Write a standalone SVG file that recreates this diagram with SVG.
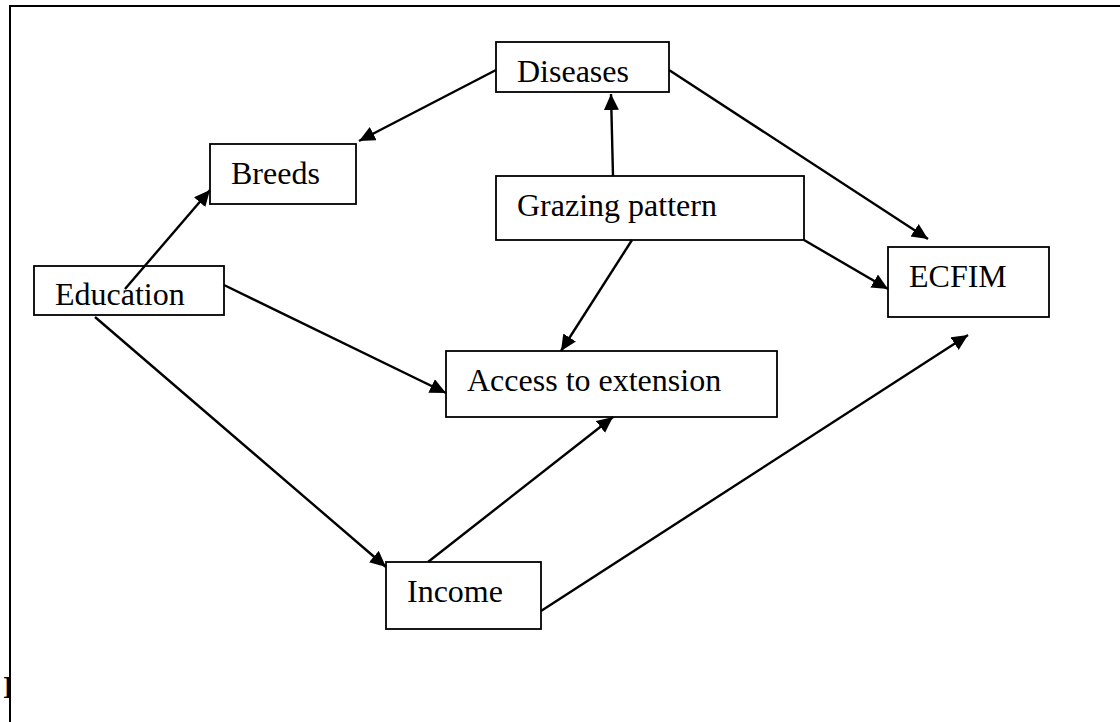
<svg xmlns="http://www.w3.org/2000/svg" width="1120" height="722" viewBox="0 0 1120 722">
<style>
.box{fill:#fff;stroke:#000;stroke-width:1.8}
.lbl{font-family:"Liberation Serif","Times New Roman",serif;font-size:32px;fill:#000}
.edge{stroke:#000;stroke-width:2.4;fill:none}
</style>
<defs>
<marker id="ah" markerUnits="userSpaceOnUse" markerWidth="18" markerHeight="16" refX="16" refY="7.5" orient="auto">
<path d="M0,0 L16,7.5 L0,15 Z" fill="#000"/>
</marker>
<clipPath id="leftclip"><rect x="0" y="0" width="10" height="722"/></clipPath>
</defs>
<rect width="1120" height="722" fill="#fff"/>
<text x="3" y="698" clip-path="url(#leftclip)" font-family="Liberation Serif, serif" font-weight="bold" font-size="31" fill="#000">I</text>
<g id="frame">
<path d="M10,722 L10,6 L1120,6" fill="none" stroke="#000" stroke-width="2"/>
</g>
<g id="n-diseases"><rect class="box" x="496" y="42" width="173" height="50"/><text class="lbl" x="517" y="82">Diseases</text></g>
<g id="n-breeds"><rect class="box" x="210" y="144" width="146" height="60"/><text class="lbl" x="231" y="184">Breeds</text></g>
<g id="n-grazing"><rect class="box" x="496" y="176" width="308" height="64"/><text class="lbl" x="517" y="216">Grazing pattern</text></g>
<g id="n-ecfim"><rect class="box" x="888" y="247" width="161" height="70"/><text class="lbl" x="909" y="287">ECFIM</text></g>
<g id="n-education"><rect class="box" x="34" y="266" width="190" height="49"/><text class="lbl" x="55" y="305">Education</text></g>
<g id="n-access"><rect class="box" x="446" y="351" width="331" height="66"/><text class="lbl" x="467" y="391">Access to extension</text></g>
<g id="n-income"><rect class="box" x="386" y="562" width="155" height="67"/><text class="lbl" x="407" y="602">Income</text></g>
<g id="connectors">
<line class="edge" x1="496" y1="70" x2="359" y2="141" marker-end="url(#ah)"/>
<line class="edge" x1="613" y1="176" x2="611" y2="94" marker-end="url(#ah)"/>
<line class="edge" x1="669" y1="70" x2="928" y2="239" marker-end="url(#ah)"/>
<line class="edge" x1="804" y1="240" x2="888" y2="289" marker-end="url(#ah)"/>
<line class="edge" x1="632" y1="240" x2="561" y2="351" marker-end="url(#ah)"/>
<line class="edge" x1="125" y1="289" x2="210" y2="190" marker-end="url(#ah)"/>
<line class="edge" x1="224" y1="285" x2="446" y2="393" marker-end="url(#ah)"/>
<line class="edge" x1="95" y1="317" x2="386" y2="567" marker-end="url(#ah)"/>
<line class="edge" x1="428" y1="562" x2="613" y2="417" marker-end="url(#ah)"/>
<line class="edge" x1="541" y1="611" x2="968" y2="335" marker-end="url(#ah)"/>
</g>
</svg>
